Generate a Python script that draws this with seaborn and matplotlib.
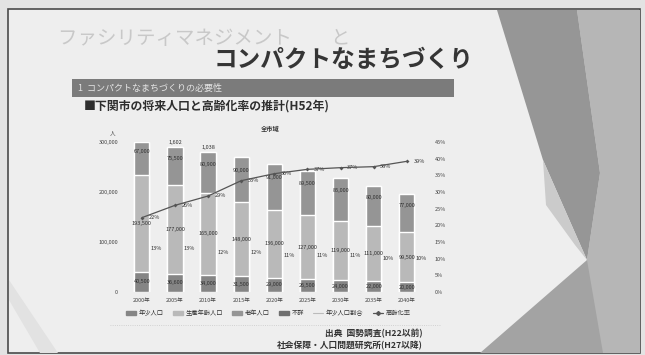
import numpy as np
import pandas as pd
import seaborn as sns
import matplotlib.pyplot as plt
import matplotlib.patches as mpatches
from matplotlib.lines import Line2D

sns.set_style("white")
plt.rcParams['font.family'] = ['Noto Sans CJK JP', 'DejaVu Sans']

# data
years = ['2000年', '2005年', '2010年', '2015年', '2020年', '2025年', '2030年', '2035年', '2040年']
youth = [40500, 36600, 34000, 31500, 29000, 26500, 24000, 22000, 20000]
working = [193500, 177000, 165000, 148000, 136000, 127000, 119000, 111000, 99500]
elderly = [67000, 75500, 80900, 90000, 91000, 89500, 85000, 80000, 77000]
unknown = [0, 1602, 1038, 0, 0, 0, 0, 0, 0]
youth_rate = [13, 13, 12, 12, 11, 11, 11, 10, 10]
aging_rate = [22.3, 26.0, 28.8, 33.4, 35.5, 36.8, 37.3, 37.6, 39.2]

W, H = 645, 355


def fx(x):
    return x / W


def fy(y):
    return 1 - y / H


fig = plt.figure(figsize=(6.45, 3.55), dpi=100)
fig.patch.set_facecolor('#e3e3e3')

# slide frame and decorative theme shapes
fig.add_artist(mpatches.Rectangle((fx(8), fy(353)), (640 - 8) / W, (353 - 9) / H,
                                  transform=fig.transFigure, fc='#eeeeee', ec='#4a4a4a',
                                  lw=1.2, zorder=-5))
shapes = [
    ([(577, 10), (640, 10), (640, 353), (560, 353), (587, 260), (600, 173)], '#b6b6b6'),
    ([(497, 10), (577, 10), (600, 173), (587, 260), (543, 160)], '#969696'),
    ([(543, 160), (546, 205), (575, 245), (587, 260)], '#cbcbcb'),
    ([(480, 353), (587, 260), (603, 353)], '#a3a3a3'),
    ([(9, 280), (9, 300), (40, 353), (58, 353)], '#e2e2e2'),
]
for pts, col in shapes:
    fig.add_artist(mpatches.Polygon([(fx(x), fy(y)) for x, y in pts], closed=True,
                                    transform=fig.transFigure, fc=col, ec='none', zorder=-4))

# slide texts
fig.text(fx(58), fy(38), 'ファシリティマネジメント\u3000\u3000と', fontsize=14, color='#c8c8c8',
         ha='left', va='center')
fig.text(fx(473), fy(60), 'コンパクトなまちづくり', fontsize=17, fontweight='bold', color='#353535',
         ha='right', va='center')
fig.add_artist(mpatches.Rectangle((fx(72), fy(97)), (454 - 72) / W, (97 - 79) / H,
                                  transform=fig.transFigure, fc='#7b7b7b', ec='none', zorder=-3))
fig.text(fx(78), fy(88), '1  コンパクトなまちづくりの必要性', fontsize=6.5, color='#e4e4e4',
         ha='left', va='center')
fig.text(fx(84), fy(106), '■下関市の将来人口と高齢化率の推計(H52年)', fontsize=8.6, fontweight='bold',
         color='#2e2e2e', ha='left', va='center')
fig.text(fx(270), fy(128), '全市域', fontsize=4.5, fontweight='bold', color='#333333',
         ha='center', va='center')
fig.text(fx(113), fy(133), '人', fontsize=4, color='#444444', ha='center', va='center')

# chart
df = pd.DataFrame({'year': years, 'youth': youth, 'working': working,
                   'elderly': elderly, 'unknown': unknown})
df['lvl1'] = df['youth']
df['lvl2'] = df['lvl1'] + df['working']
df['lvl3'] = df['lvl2'] + df['elderly']
df['lvl4'] = df['lvl3'] + df['unknown']

c_youth, c_working, c_elderly, c_unknown = '#858585', '#b9b9b9', '#959595', '#6f6f6f'

ax = fig.add_axes([fx(123), fy(292), (428 - 123) / W, (292 - 142) / H])
ax.patch.set_alpha(0)
for col, color in [('lvl4', c_unknown), ('lvl3', c_elderly), ('lvl2', c_working), ('lvl1', c_youth)]:
    sns.barplot(data=df, x='year', y=col, color=color, width=0.46, errorbar=None,
                saturation=1, ax=ax, zorder=2)

ax.set_xlim(-0.57, 8.64)
ax.set_ylim(0, 300000)
ax.set_yticks([0, 100000, 200000, 300000])
ax.set_yticklabels([f'{v:,}' for v in [0, 100000, 200000, 300000]])
ax.set_xlabel('')
ax.set_ylabel('')
ax.tick_params(axis='both', length=0, labelsize=4, labelcolor='#444444')
ax.tick_params(axis='x', pad=4)
sns.despine(ax=ax, left=True, bottom=True)

# segment value labels
for i in range(len(years)):
    ax.text(i, youth[i] / 2, f'{youth[i]:,}', ha='center', va='center', fontsize=4, color='#303030', zorder=5)
    ax.text(i, youth[i] + working[i] / 2, f'{working[i]:,}', ha='center', va='center',
            fontsize=4, color='#303030', zorder=5)
    ax.text(i, youth[i] + working[i] + elderly[i] * 0.7, f'{elderly[i]:,}', ha='center', va='center',
            fontsize=4, color='#303030', zorder=5)
    if unknown[i]:
        ax.text(i, df['lvl4'][i] + 2500, f'{unknown[i]:,}', ha='center', va='bottom',
                fontsize=4, color='#303030', zorder=5)

# ratio lines on the right axis
ax2 = ax.twinx()
pos = np.arange(len(years))
sns.lineplot(x=pos, y=np.array(aging_rate) / 100, ax=ax2, color='#555555', lw=0.9,
             marker='D', markersize=2, markeredgewidth=0, legend=False, zorder=4)
ax2.set_ylim(0, 0.45)
ax2.set_yticks(np.arange(0, 0.46, 0.05))
ax2.set_yticklabels([f'{v}%' for v in range(0, 50, 5)])
ax2.set_ylabel('')
ax2.tick_params(axis='y', length=0, labelsize=4, labelcolor='#444444', pad=5)
sns.despine(ax=ax2, left=True, bottom=True, right=True)
ax2.set_xlim(-0.57, 8.64)

for i in range(len(years)):
    ax2.text(i + 0.27, youth_rate[i] / 100, f'{youth_rate[i]}%', ha='left', va='center',
             fontsize=4, color='#303030')
    ax2.text(i + 0.2, aging_rate[i] / 100, f'{aging_rate[i]:.0f}%', ha='left', va='center',
             fontsize=4, color='#303030')

# legend
handles = [mpatches.Patch(color=c_youth), mpatches.Patch(color=c_working),
           mpatches.Patch(color=c_elderly), mpatches.Patch(color=c_unknown),
           Line2D([], [], color='#bbbbbb', lw=0.8),
           Line2D([], [], color='#555555', lw=0.9, marker='D', markersize=2)]
labels = ['年少人口', '生産年齢人口', '老年人口', '不詳', '年少人口割合', '高齢化率']
fig.legend(handles, labels, loc='center', bbox_to_anchor=(fx(268), fy(313)), ncol=6,
           frameon=False, fontsize=4.5, handlelength=1.6, handleheight=0.5,
           columnspacing=1.5, handletextpad=0.4, labelcolor='#333333')
fig.add_artist(Line2D([fx(110), fx(440)], [fy(325), fy(325)], color='#c8c8c8', lw=0.6, ls=':'))

# source notes
fig.text(fx(423), fy(334), '出典  国勢調査(H22以前)', fontsize=6.3, fontweight='bold',
         color='#333333', ha='right', va='center')
fig.text(fx(423), fy(346), '社会保障・人口問題研究所(H27以降)', fontsize=6.3, fontweight='bold',
         color='#333333', ha='right', va='center')

fig.savefig('out.png', dpi=100, facecolor=fig.get_facecolor())
